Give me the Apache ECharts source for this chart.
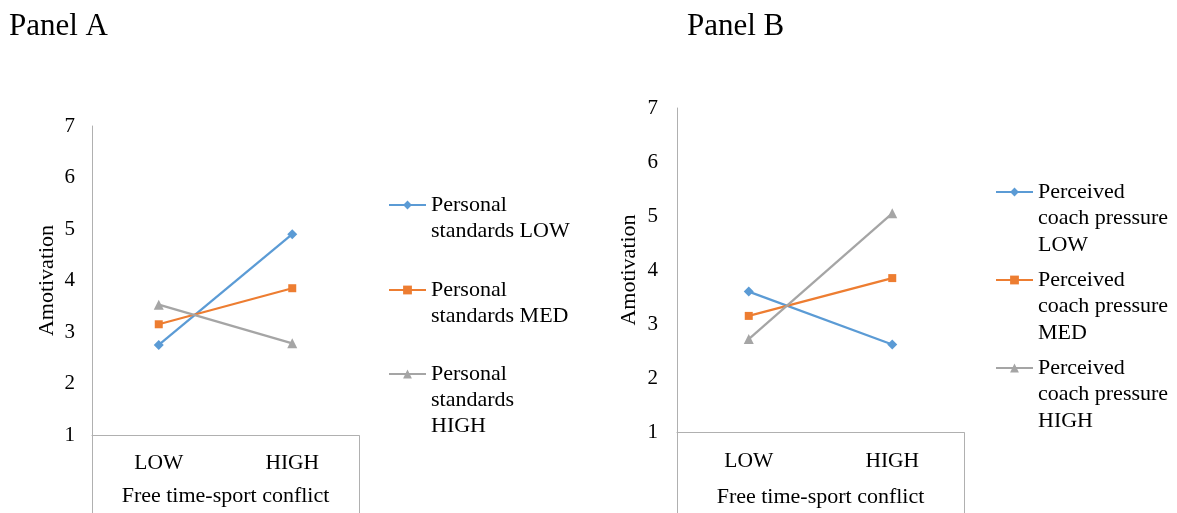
<!DOCTYPE html>
<html>
<head>
<meta charset="utf-8">
<script src="https://cdn.jsdelivr.net/npm/echarts@6/dist/echarts.min.js"></script>
<style>
html,body{margin:0;padding:0;background:#fff;}
#chart{width:1177px;height:513px;}
</style>
</head>
<body>
<div id="chart"></div>
<script>
// ---- data ----
const categories = ['LOW', 'HIGH'];
const yTicks = [1, 2, 3, 4, 5, 6, 7];
const panelTitles = ['Panel A', 'Panel B'];
const xAxisName = 'Free time-sport conflict';
const yAxisName = 'Amotivation';

const seriesNamesA = ['Personal standards LOW', 'Personal standards MED', 'Personal standards HIGH'];
const legendTextA = ['Personal\nstandards LOW', 'Personal\nstandards MED', 'Personal\nstandards\nHIGH'];
const panelA_low = [2.75, 4.9];
const panelA_med = [3.15, 3.85];
const panelA_high = [3.53, 2.78];

const seriesNamesB = ['Perceived coach pressure LOW', 'Perceived coach pressure MED', 'Perceived coach pressure HIGH'];
const legendTextB = ['Perceived\ncoach pressure\nLOW', 'Perceived\ncoach pressure\nMED', 'Perceived\ncoach pressure\nHIGH'];
const panelB_low = [3.6, 2.62];
const panelB_med = [3.15, 3.85];
const panelB_high = [2.72, 5.05];

// ---- style / layout ----
const FONT = '"Liberation Serif", "Times New Roman", serif';
const TXT = '#000000';
const AX = '#b0b0b0';
const colors = ['#5B9BD5', '#ED7D31', '#A5A5A5'];
const symbols = ['diamond', 'rect', 'triangle'];
const symSizes = [10, 8, 10];

const grids = [
  {left: 92, top: 126, width: 267, height: 309},
  {left: 677, top: 108, width: 287, height: 324}
];

const chart = echarts.init(document.getElementById('chart'), null, {renderer: 'canvas'});

function mkSeries(name, data, i, gi) {
  return {
    name: name, type: 'line', xAxisIndex: gi, yAxisIndex: gi,
    data: data, symbol: symbols[i], symbolSize: symSizes[i],
    lineStyle: {color: colors[i], width: 2.25},
    itemStyle: {color: colors[i]},
    emphasis: {disabled: true}, animation: false
  };
}

// legend text is centred on the icon; pad with leading blank lines so the
// icon sits beside the first text line
function mkLegend(name, text, left, firstLineY, lh) {
  const n = text.split('\n').length;
  const padded = '\n'.repeat(n - 1) + text;
  return {
    data: [name], left: left, top: firstLineY - (2 * n - 1) * lh / 2,
    padding: 0, itemWidth: 37, itemHeight: 11, itemGap: 0,
    lineStyle: {width: 2},
    formatter: function () { return padded; },
    textStyle: {fontFamily: FONT, fontSize: 22, color: TXT, lineHeight: lh},
    selectedMode: false
  };
}

function xAx(gi, nameGap, margin) {
  return {
    type: 'category', gridIndex: gi, data: categories, boundaryGap: true,
    name: xAxisName, nameLocation: 'middle', nameGap: nameGap,
    nameTextStyle: {fontFamily: FONT, fontSize: 22, color: TXT, verticalAlign: 'top'},
    axisLine: {show: true, lineStyle: {color: AX, width: 1}},
    axisTick: {show: false},
    axisLabel: {fontFamily: FONT, fontSize: 21.5, color: TXT, margin: margin},
    splitLine: {show: false}
  };
}
function yAx(gi, nameGap, margin) {
  return {
    type: 'value', gridIndex: gi, min: 1, max: 7, interval: 1,
    name: yAxisName, nameLocation: 'middle', nameGap: nameGap, nameRotate: 90,
    nameTextStyle: {fontFamily: FONT, fontSize: 22, color: TXT},
    axisLine: {show: true, lineStyle: {color: AX, width: 1}},
    axisTick: {show: false},
    axisLabel: {fontFamily: FONT, fontSize: 21, color: TXT, margin: margin,
      formatter: function (v) { return yTicks.indexOf(v) >= 0 ? String(v) : ''; }},
    splitLine: {show: false}
  };
}

const option = {
  backgroundColor: '#ffffff',
  animation: false,
  title: [
    {text: panelTitles[0], left: 9, top: 11, padding: 0, textStyle: {fontFamily: FONT, fontSize: 31, fontWeight: 'normal', color: TXT}},
    {text: panelTitles[1], left: 687, top: 11, padding: 0, textStyle: {fontFamily: FONT, fontSize: 31, fontWeight: 'normal', color: TXT}}
  ],
  grid: grids.map(g => Object.assign({containLabel: false}, g)),
  xAxis: [xAx(0, 50, 17), xAx(1, 54, 18)],
  yAxis: [yAx(0, 34, 17), yAx(1, 37, 19)],
  legend: [
    mkLegend(seriesNamesA[0], legendTextA[0], 388, 205, 26),
    mkLegend(seriesNamesA[1], legendTextA[1], 388, 290, 26),
    mkLegend(seriesNamesA[2], legendTextA[2], 388, 374, 26),
    mkLegend(seriesNamesB[0], legendTextB[0], 995, 192, 26.5),
    mkLegend(seriesNamesB[1], legendTextB[1], 995, 280, 26.5),
    mkLegend(seriesNamesB[2], legendTextB[2], 995, 368, 26.5)
  ],
  graphic: grids.map(g => ({
    type: 'rect', silent: true, z: 1,
    shape: {x: g.left + 0.5, y: g.top + g.height + 0.5, width: g.width, height: 200},
    style: {fill: 'none', stroke: AX, lineWidth: 1}
  })),
  series: [
    mkSeries(seriesNamesA[0], panelA_low, 0, 0),
    mkSeries(seriesNamesA[1], panelA_med, 1, 0),
    mkSeries(seriesNamesA[2], panelA_high, 2, 0),
    mkSeries(seriesNamesB[0], panelB_low, 0, 1),
    mkSeries(seriesNamesB[1], panelB_med, 1, 1),
    mkSeries(seriesNamesB[2], panelB_high, 2, 1)
  ]
};
chart.setOption(option);
</script>
</body>
</html>
